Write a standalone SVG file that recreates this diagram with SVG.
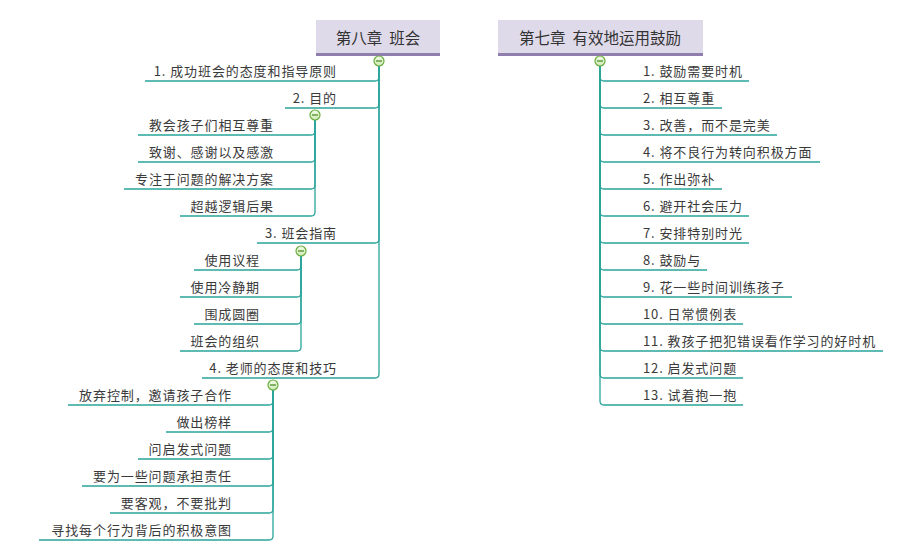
<svg xmlns="http://www.w3.org/2000/svg" width="900" height="560" viewBox="0 0 900 560">
<defs>
<linearGradient id="cg" x1="0" y1="0" x2="0" y2="1">
<stop offset="0" stop-color="#f4fbe9"/>
<stop offset="1" stop-color="#cfe9b4"/>
</linearGradient>
<style>
.t{font-family:"Noto Sans CJK SC","Noto Sans",sans-serif;font-size:13px;fill:#3a3a3a;letter-spacing:0.9px}
.tl{text-anchor:end}
.root{font-family:"Noto Sans CJK SC","Noto Sans",sans-serif;font-size:15.5px;fill:#333;text-anchor:middle}
.box{fill:#dedaea}
.bar{fill:#8f7dae}
.c{fill:none;stroke:#2aa59b;stroke-width:1.3}
.cc{fill:url(#cg);stroke:#66ad3c;stroke-width:1.2}
.cm{stroke:#4c8f2a;stroke-width:1.3}
</style>
</defs>
<rect width="900" height="560" fill="#fff"/>
<g id="connectors">
<path class="c" d="M379 66 V77 Q379 81 375 81 H145"/>
<path class="c" d="M379 66 V104 Q379 108 375 108 H285"/>
<path class="c" d="M379 66 V239 Q379 243 375 243 H257"/>
<path class="c" d="M379 66 V374 Q379 378 375 378 H202"/>
<path class="c" d="M315 120 V131 Q315 135 311 135 H138"/>
<path class="c" d="M315 120 V158 Q315 162 311 162 H138"/>
<path class="c" d="M315 120 V185 Q315 189 311 189 H124"/>
<path class="c" d="M315 120 V212 Q315 216 311 216 H180"/>
<path class="c" d="M301 256 V266 Q301 270 297 270 H194"/>
<path class="c" d="M301 256 V293 Q301 297 297 297 H180"/>
<path class="c" d="M301 256 V320 Q301 324 297 324 H194"/>
<path class="c" d="M301 256 V347 Q301 351 297 351 H180"/>
<path class="c" d="M273 390 V401 Q273 405 269 405 H68"/>
<path class="c" d="M273 390 V428 Q273 432 269 432 H166"/>
<path class="c" d="M273 390 V455 Q273 459 269 459 H138"/>
<path class="c" d="M273 390 V482 Q273 486 269 486 H82"/>
<path class="c" d="M273 390 V509 Q273 513 269 513 H110"/>
<path class="c" d="M273 390 V536 Q273 540 269 540 H39"/>
<path class="c" d="M600 66 V77 Q600 81 604 81 H749"/>
<path class="c" d="M600 66 V104 Q600 108 604 108 H722"/>
<path class="c" d="M600 66 V131 Q600 135 604 135 H777"/>
<path class="c" d="M600 66 V158 Q600 162 604 162 H820"/>
<path class="c" d="M600 66 V185 Q600 189 604 189 H722"/>
<path class="c" d="M600 66 V212 Q600 216 604 216 H749"/>
<path class="c" d="M600 66 V239 Q600 243 604 243 H749"/>
<path class="c" d="M600 66 V266 Q600 270 604 270 H707"/>
<path class="c" d="M600 66 V293 Q600 297 604 297 H792"/>
<path class="c" d="M600 66 V320 Q600 324 604 324 H743"/>
<path class="c" d="M600 66 V347 Q600 351 604 351 H883"/>
<path class="c" d="M600 66 V374 Q600 378 604 378 H743"/>
<path class="c" d="M600 66 V401 Q600 405 604 405 H743"/>
</g>
<g id="root-ch8">
<rect class="box" x="316" y="20" width="124" height="36"/>
<rect class="bar" x="316" y="53" width="124" height="3"/>
<text class="root" x="378" y="44" xml:space="preserve">第八章  班会</text>
<circle class="cc" cx="379" cy="61" r="5"/><line class="cm" x1="376" y1="61" x2="382" y2="61"/>
</g>
<g id="root-ch7">
<rect class="box" x="498" y="20" width="205" height="36"/>
<rect class="bar" x="498" y="53" width="205" height="3"/>
<text class="root" x="600" y="44" xml:space="preserve">第七章  有效地运用鼓励</text>
<circle class="cc" cx="600" cy="61" r="5"/><line class="cm" x1="597" y1="61" x2="603" y2="61"/>
</g>
<g id="n8-1"><text class="t tl" x="337" y="76">1. 成功班会的态度和指导原则</text></g>
<g id="n8-2"><text class="t tl" x="337" y="103">2. 目的</text>
<circle class="cc" cx="315" cy="115" r="5"/><line class="cm" x1="312" y1="115" x2="318" y2="115"/></g>
<g id="n8-2-1"><text class="t tl" x="274" y="130">教会孩子们相互尊重</text></g>
<g id="n8-2-2"><text class="t tl" x="274" y="157">致谢、感谢以及感激</text></g>
<g id="n8-2-3"><text class="t tl" x="274" y="184">专注于问题的解决方案</text></g>
<g id="n8-2-4"><text class="t tl" x="274" y="211">超越逻辑后果</text></g>
<g id="n8-3"><text class="t tl" x="337" y="238">3. 班会指南</text>
<circle class="cc" cx="301" cy="251" r="5"/><line class="cm" x1="298" y1="251" x2="304" y2="251"/></g>
<g id="n8-3-1"><text class="t tl" x="260" y="265">使用议程</text></g>
<g id="n8-3-2"><text class="t tl" x="260" y="292">使用冷静期</text></g>
<g id="n8-3-3"><text class="t tl" x="260" y="319">围成圆圈</text></g>
<g id="n8-3-4"><text class="t tl" x="260" y="346">班会的组织</text></g>
<g id="n8-4"><text class="t tl" x="337" y="373">4. 老师的态度和技巧</text>
<circle class="cc" cx="273" cy="385" r="5"/><line class="cm" x1="270" y1="385" x2="276" y2="385"/></g>
<g id="n8-4-1"><text class="t tl" x="232" y="400">放弃控制，邀请孩子合作</text></g>
<g id="n8-4-2"><text class="t tl" x="232" y="427">做出榜样</text></g>
<g id="n8-4-3"><text class="t tl" x="232" y="454">问启发式问题</text></g>
<g id="n8-4-4"><text class="t tl" x="232" y="481">要为一些问题承担责任</text></g>
<g id="n8-4-5"><text class="t tl" x="232" y="508">要客观，不要批判</text></g>
<g id="n8-4-6"><text class="t tl" x="232" y="535">寻找每个行为背后的积极意图</text></g>
<g id="n7-1"><text class="t" x="643" y="76">1. 鼓励需要时机</text></g>
<g id="n7-2"><text class="t" x="643" y="103">2. 相互尊重</text></g>
<g id="n7-3"><text class="t" x="643" y="130">3. 改善，而不是完美</text></g>
<g id="n7-4"><text class="t" x="643" y="157">4. 将不良行为转向积极方面</text></g>
<g id="n7-5"><text class="t" x="643" y="184">5. 作出弥补</text></g>
<g id="n7-6"><text class="t" x="643" y="211">6. 避开社会压力</text></g>
<g id="n7-7"><text class="t" x="643" y="238">7. 安排特别时光</text></g>
<g id="n7-8"><text class="t" x="643" y="265">8. 鼓励与</text></g>
<g id="n7-9"><text class="t" x="643" y="292">9. 花一些时间训练孩子</text></g>
<g id="n7-10"><text class="t" x="643" y="319">10. 日常惯例表</text></g>
<g id="n7-11"><text class="t" x="643" y="346">11. 教孩子把犯错误看作学习的好时机</text></g>
<g id="n7-12"><text class="t" x="643" y="373">12. 启发式问题</text></g>
<g id="n7-13"><text class="t" x="643" y="400">13. 试着抱一抱</text></g>
</svg>
